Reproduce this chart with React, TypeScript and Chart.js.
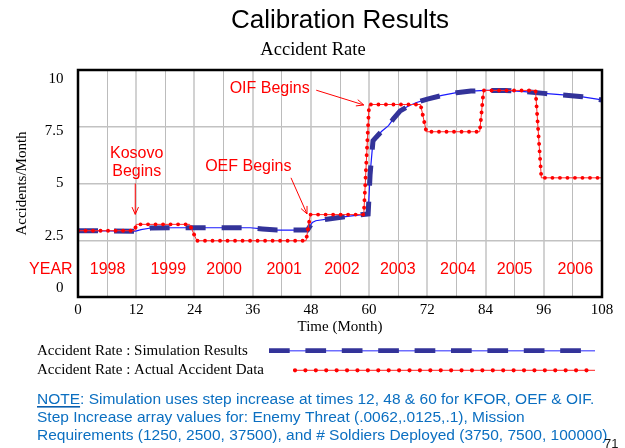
import React, { useEffect, useRef } from 'react';
import { Chart, registerables } from 'chart.js';

Chart.register(...registerables);

// ---- data ----
const simTimes = [0, 6, 11.9, 13, 15, 20, 30, 35.5, 38, 41, 47.3, 48.3, 49, 52, 56, 59.8, 60.2, 60.8, 61.5, 62.6, 64, 65, 66.4, 68, 69.8, 72, 75, 78, 81, 84, 88, 92, 96, 100, 104, 108];
const simValues = [2.92, 2.91, 2.9, 2.97, 3.04, 3.05, 3.05, 3.05, 3.0, 2.95, 2.95, 3.28, 3.36, 3.45, 3.56, 3.66, 5.4, 6.88, 7.05, 7.3, 7.55, 7.85, 8.2, 8.4, 8.57, 8.72, 8.88, 9.0, 9.07, 9.1, 9.1, 9.05, 8.97, 8.9, 8.82, 8.68];

const actualTimes = [0, 11.7, 12, 23, 24.5, 47, 47.9, 58.9, 60, 70.6, 71.8, 82.8, 83.6, 94.3, 95.5, 108];
const actualValues = [2.92, 2.92, 3.2, 3.2, 2.48, 2.48, 3.63, 3.63, 8.48, 8.48, 7.28, 7.28, 9.1, 9.1, 5.25, 5.25];

const xTickStep = 6;
const xLabelStep = 12;
const yTickValues = [0, 2.5, 5, 7.5, 10];

const yearLabels = ['YEAR', '1998', '1999', '2000', '2001', '2002', '2003', '2004', '2005', '2006'];
const yearCenters = [-5.6, 6.1, 18.6, 30.1, 42.5, 54.4, 65.9, 78.3, 90, 102.5];
const yearLevel = 1.2;

const legendLabels = ['Accident Rate : Simulation Results', 'Accident Rate : Actual Accident Data'];
const noteLines = [
  'NOTE: Simulation uses step increase at times 12, 48 & 60 for KFOR, OEF & OIF.',
  'Step Increase array values for: Enemy Threat (.0062,.0125,.1), Mission',
  'Requirements (1250, 2500, 37500), and # Soldiers Deployed (3750, 7500, 100000)',
];

// event annotations: text lines, text anchor (month, value), arrow from/to (month, value)
const events = [
  { lines: ['Kosovo', 'Begins'], tx: 12.1, ty: [6.3, 5.53], from: [11.8, 5.0], to: [11.8, 3.64] },
  { lines: ['OEF Begins'], tx: 35.1, ty: [5.75], from: [43.9, 5.25], to: [47.2, 3.66] },
  { lines: ['OIF Begins'], tx: 39.5, ty: [9.2], from: [49.1, 9.11], to: [58.9, 8.46] },
];

const SERIF = '"Liberation Serif", "Times New Roman", serif';
const SANS = '"Liberation Sans", Arial, sans-serif';

function drawArrow(ctx: CanvasRenderingContext2D, x1: number, y1: number, x2: number, y2: number) {
  ctx.beginPath();
  ctx.moveTo(x1, y1);
  ctx.lineTo(x2, y2);
  ctx.stroke();
  const a = Math.atan2(y2 - y1, x2 - x1);
  const L = 8;
  const w = 0.42;
  ctx.beginPath();
  ctx.moveTo(x2 - L * Math.cos(a - w), y2 - L * Math.sin(a - w));
  ctx.lineTo(x2, y2);
  ctx.lineTo(x2 - L * Math.cos(a + w), y2 - L * Math.sin(a + w));
  ctx.stroke();
}

const decorPlugin = {
  id: 'decor',
  afterDatasetsDraw(chart: any) {
    const { ctx, chartArea, scales } = chart;
    const xs = scales.x;
    const ys = scales.y;
    ctx.save();
    // frame
    ctx.strokeStyle = '#000';
    ctx.lineWidth = 2.5;
    ctx.strokeRect(chartArea.left, chartArea.top, chartArea.right - chartArea.left, chartArea.bottom - chartArea.top);

    // year labels
    ctx.fillStyle = '#ff0000';
    ctx.font = `16px ${SANS}`;
    ctx.textAlign = 'center';
    ctx.textBaseline = 'middle';
    yearLabels.forEach((t, i) => {
      ctx.fillText(t, xs.getPixelForValue(yearCenters[i]), ys.getPixelForValue(yearLevel));
    });

    // event annotations
    ctx.strokeStyle = '#ff0000';
    ctx.lineWidth = 1;
    events.forEach((e) => {
      e.lines.forEach((l, i) => {
        ctx.fillText(l, xs.getPixelForValue(e.tx), ys.getPixelForValue(e.ty[i]));
      });
      drawArrow(
        ctx,
        xs.getPixelForValue(e.from[0]), ys.getPixelForValue(e.from[1]),
        xs.getPixelForValue(e.to[0]), ys.getPixelForValue(e.to[1])
      );
    });
    ctx.restore();
  },
  afterDraw(chart: any) {
    const { ctx } = chart;
    ctx.save();
    // titles
    ctx.fillStyle = '#000';
    ctx.textAlign = 'center';
    ctx.textBaseline = 'alphabetic';
    ctx.font = `26px ${SANS}`;
    ctx.fillText('Calibration Results', 340, 27.5);
    ctx.font = `18.5px ${SERIF}`;
    ctx.fillText('Accident Rate', 313, 55);

    // legend
    ctx.textAlign = 'left';
    ctx.textBaseline = 'middle';
    ctx.font = `15px ${SERIF}`;
    ctx.fillText(legendLabels[0], 37, 351);
    ctx.fillText(legendLabels[1], 37, 370);

    // legend sample: simulation
    ctx.lineCap = 'butt';
    ctx.strokeStyle = 'rgb(110,110,255)';
    ctx.lineWidth = 1.5;
    ctx.beginPath(); ctx.moveTo(269, 350.7); ctx.lineTo(595, 350.7); ctx.stroke();
    ctx.strokeStyle = '#333399';
    ctx.lineWidth = 4.7;
    ctx.setLineDash([20.7, 15.7]);
    ctx.beginPath(); ctx.moveTo(269, 350.7); ctx.lineTo(582, 350.7); ctx.stroke();
    ctx.setLineDash([]);

    // legend sample: actual
    ctx.strokeStyle = '#ff2020';
    ctx.lineWidth = 1;
    ctx.beginPath(); ctx.moveTo(293, 370.3); ctx.lineTo(595, 370.3); ctx.stroke();
    ctx.strokeStyle = '#ff0000';
    ctx.lineWidth = 4.2;
    ctx.lineCap = 'round';
    ctx.setLineDash([0.01, 10.4]);
    ctx.beginPath(); ctx.moveTo(295, 370.3); ctx.lineTo(595, 370.3); ctx.stroke();
    ctx.setLineDash([]);
    ctx.lineCap = 'butt';

    // note
    ctx.fillStyle = '#0b6fc1';
    ctx.font = `15.5px ${SANS}`;
    const ly = [399.5, 417.8, 436.1];
    noteLines.forEach((l, i) => ctx.fillText(l, 37, ly[i]));
    const w = ctx.measureText('NOTE').width;
    ctx.fillStyle = '#0a5fae';
    ctx.fillRect(37, 406, w, 1.6);

    // page number
    ctx.fillStyle = '#1a1a1a';
    ctx.font = `13px ${SANS}`;
    ctx.textBaseline = 'alphabetic';
    ctx.fillText('71', 604, 448);
    ctx.restore();
  },
};

export default function App() {
  const ref = useRef<HTMLCanvasElement | null>(null);

  useEffect(() => {
    if (!ref.current) return;
    const simPts = simTimes.map((t, i) => ({ x: t, y: simValues[i] }));
    const actPts = actualTimes.map((t, i) => ({ x: t, y: actualValues[i] }));

    const chart = new Chart(ref.current, {
      type: 'line',
      data: {
        datasets: [
          {
            label: 'Actual dots',
            data: actPts,
            borderColor: '#ff0000',
            borderWidth: 3.9,
            borderDash: [0.01, 7.5],
            borderCapStyle: 'round',
            pointRadius: 0,
            tension: 0,
            fill: false,
          },
          {
            label: 'Actual line',
            data: actPts,
            borderColor: '#ff2a2a',
            borderWidth: 1,
            pointRadius: 0,
            tension: 0,
            fill: false,
          },
          {
            label: 'Simulation dashes',
            data: simPts,
            borderColor: '#333399',
            borderWidth: 5,
            borderDash: [20, 16],
            borderCapStyle: 'butt',
            pointRadius: 0,
            tension: 0,
            fill: false,
          },
          {
            label: 'Simulation line',
            data: simPts,
            borderColor: '#1a1aff',
            borderWidth: 1.2,
            pointRadius: 0,
            tension: 0,
            fill: false,
          },
        ],
      } as any,
      options: {
        animation: false,
        responsive: false,
        devicePixelRatio: 1,
        layout: { padding: { top: 70, right: 23, bottom: 111, left: 0 } },
        plugins: {
          legend: { display: false },
          title: { display: false },
          tooltip: { enabled: false },
        },
        scales: {
          x: {
            type: 'linear',
            min: 0,
            max: 108,
            afterFit: (s: any) => { s.height = 40; },
            ticks: {
              stepSize: xTickStep,
              autoSkip: false,
              maxRotation: 0,
              padding: 4,
              color: '#000',
              font: { family: SERIF, size: 15 },
              callback: (v: any) => (Number(v) % xLabelStep === 0 ? String(v) : ''),
            },
            grid: {
              drawTicks: false,
              color: (c: any) => (c.tick && c.tick.value % xLabelStep === 0 ? '#d2d2d2' : '#bcbcbc'),
              lineWidth: (c: any) => (c.tick && c.tick.value % xLabelStep === 0 ? 2 : 1),
            },
            border: { display: false },
            title: {
              display: true,
              text: 'Time (Month)',
              color: '#000',
              font: { family: SERIF, size: 15 },
              padding: { top: 0, bottom: 1 },
            },
          },
          y: {
            type: 'linear',
            position: 'left',
            min: 0,
            max: 10,
            afterFit: (s: any) => { s.width = 0; },
            ticks: { display: false, stepSize: 2.5 },
            grid: { drawTicks: false, color: '#c2c2c2', lineWidth: 1.5 },
            border: { display: false },
          },
          yLabels: {
            type: 'linear',
            position: 'left',
            min: -0.4306,
            max: 10.4306,
            afterFit: (s: any) => { s.width = 78; },
            afterBuildTicks: (s: any) => { s.ticks = yTickValues.map((v) => ({ value: v })); },
            ticks: {
              padding: 14.5,
              color: '#000',
              font: { family: SERIF, size: 15 },
              callback: (v: any) => String(v),
            },
            grid: { display: false, drawTicks: false },
            border: { display: false },
            title: {
              display: true,
              text: 'Accidents/Month',
              color: '#000',
              font: { family: SERIF, size: 15 },
              padding: { top: 12.7, bottom: 0 },
            },
          },
        },
      } as any,
      plugins: [decorPlugin],
    });
    return () => chart.destroy();
  }, []);

  return (
    <div style={{ position: 'absolute', left: 0, top: 0, width: 625, height: 448, background: '#fff' }}>
      <canvas ref={ref} width={625} height={448} style={{ display: 'block', width: 625, height: 448 }} />
    </div>
  );
}
